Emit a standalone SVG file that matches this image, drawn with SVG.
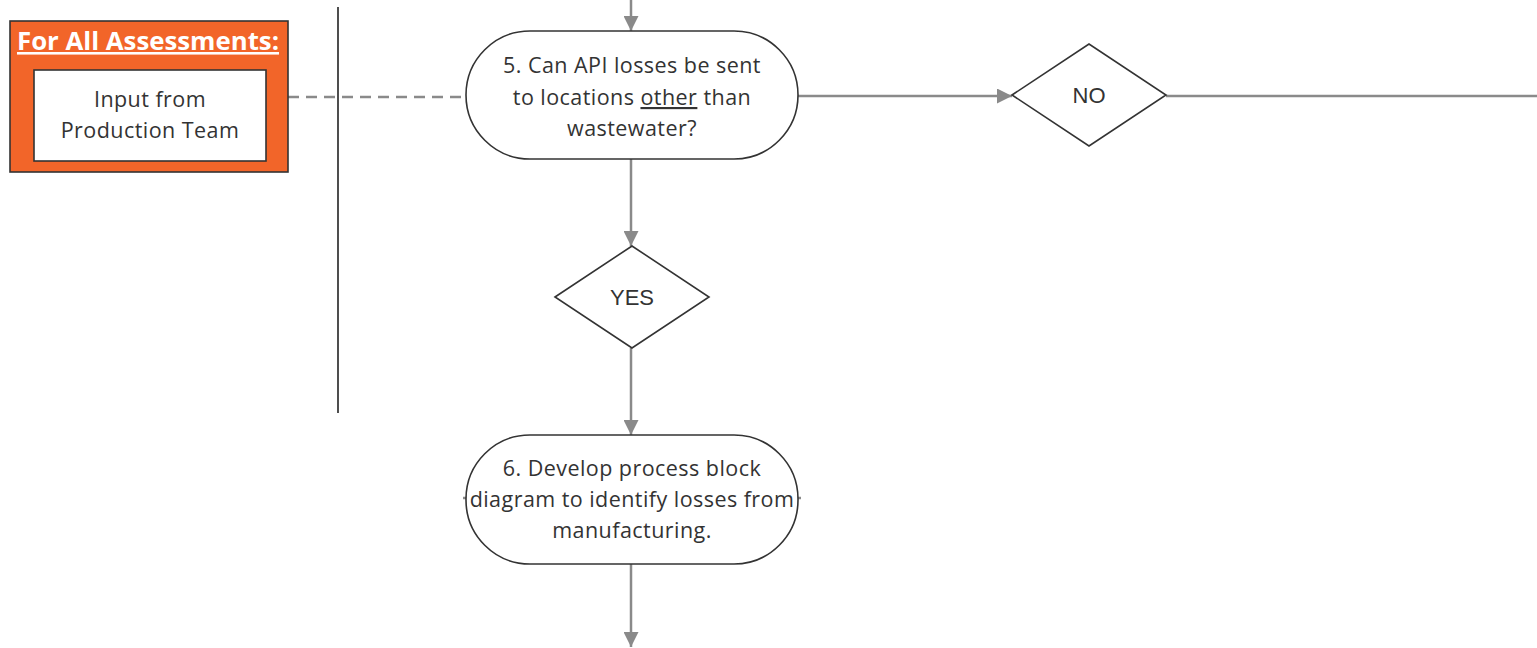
<svg xmlns="http://www.w3.org/2000/svg" width="1537" height="648" viewBox="0 0 1537 648">
  <style>
    .flow { fill: none; stroke: #8a8a8a; stroke-width: 2.5; }
    .dash { fill: none; stroke: #8a8a8a; stroke-width: 2.5; stroke-dasharray: 11 7; }
    .shape { fill: #ffffff; stroke: #333333; stroke-width: 1.6; }
    .lbl { font-family: "Open Sans", "Noto Sans", sans-serif; font-size: 21.5px; letter-spacing: 0.45px; fill: #333333; text-anchor: middle; }
    .dec { font-family: "Liberation Sans", Arial, sans-serif; font-size: 22px; fill: #333333; text-anchor: middle; }
  </style>
  <defs>
    <marker id="arrow" viewBox="0 0 10 10" refX="10" refY="5" markerWidth="6" markerHeight="6" orient="auto" markerUnits="strokeWidth">
      <path d="M0,0 L10,5 L0,10 Z" fill="#8a8a8a"/>
    </marker>
  </defs>
  <rect width="1537" height="648" fill="#ffffff"/>

  <!-- swimlane divider -->
  <line x1="338" y1="7" x2="338" y2="413" stroke="#222222" stroke-width="1.6"/>

  <g id="connectors">
    <line class="flow" x1="631" y1="0" x2="631" y2="31" marker-end="url(#arrow)"/>
    <line class="dash" x1="288" y1="97" x2="466" y2="97"/>
    <line class="flow" x1="798" y1="96" x2="1012" y2="96" marker-end="url(#arrow)"/>
    <line class="flow" x1="1166" y1="96" x2="1537" y2="96"/>
    <line class="flow" x1="631" y1="159" x2="631" y2="246" marker-end="url(#arrow)"/>
    <line class="flow" x1="631" y1="348" x2="631" y2="435" marker-end="url(#arrow)"/>
    <line class="flow" x1="631" y1="564" x2="631" y2="647" marker-end="url(#arrow)"/>
    <!-- side stubs on step 6 -->
    <line class="flow" x1="463" y1="498" x2="467" y2="498"/>
    <line class="flow" x1="797" y1="498" x2="801" y2="498"/>
  </g>

  <g id="production-input">
    <rect x="10" y="21" width="278" height="151" fill="#f26529" stroke="#333333" stroke-width="1.6"/>
    <text x="148" y="50" font-family="'Open Sans', 'Noto Sans', sans-serif" font-size="25.8" font-weight="bold" fill="#ffffff" text-anchor="middle" text-decoration="underline">For All Assessments:</text>
    <rect x="34" y="70" width="232" height="91" fill="#ffffff" stroke="#333333" stroke-width="1.6"/>
    <text class="lbl" x="150" y="107">Input from</text>
    <text class="lbl" x="150" y="138">Production Team</text>
  </g>

  <g id="step-5">
    <rect class="shape" x="466" y="31" width="332" height="128" rx="64" ry="64"/>
    <text class="lbl" x="632" y="73">5. Can API losses be sent</text>
    <text class="lbl" x="632" y="105">to locations <tspan text-decoration="underline">other</tspan> than</text>
    <text class="lbl" x="632" y="136">wastewater?</text>
  </g>

  <g id="decision-no">
    <polygon class="shape" points="1012,95 1089,44 1166,95 1089,146"/>
    <text class="dec" x="1089" y="103">NO</text>
  </g>

  <g id="decision-yes">
    <polygon class="shape" points="555,297 632,246 709,297 632,348"/>
    <text class="dec" x="632" y="305">YES</text>
  </g>

  <g id="step-6">
    <rect class="shape" x="466" y="435" width="332" height="129" rx="64" ry="64"/>
    <text class="lbl" x="632" y="476">6. Develop process block</text>
    <text class="lbl" x="632" y="507">diagram to identify losses from</text>
    <text class="lbl" x="632" y="538">manufacturing.</text>
  </g>
</svg>
